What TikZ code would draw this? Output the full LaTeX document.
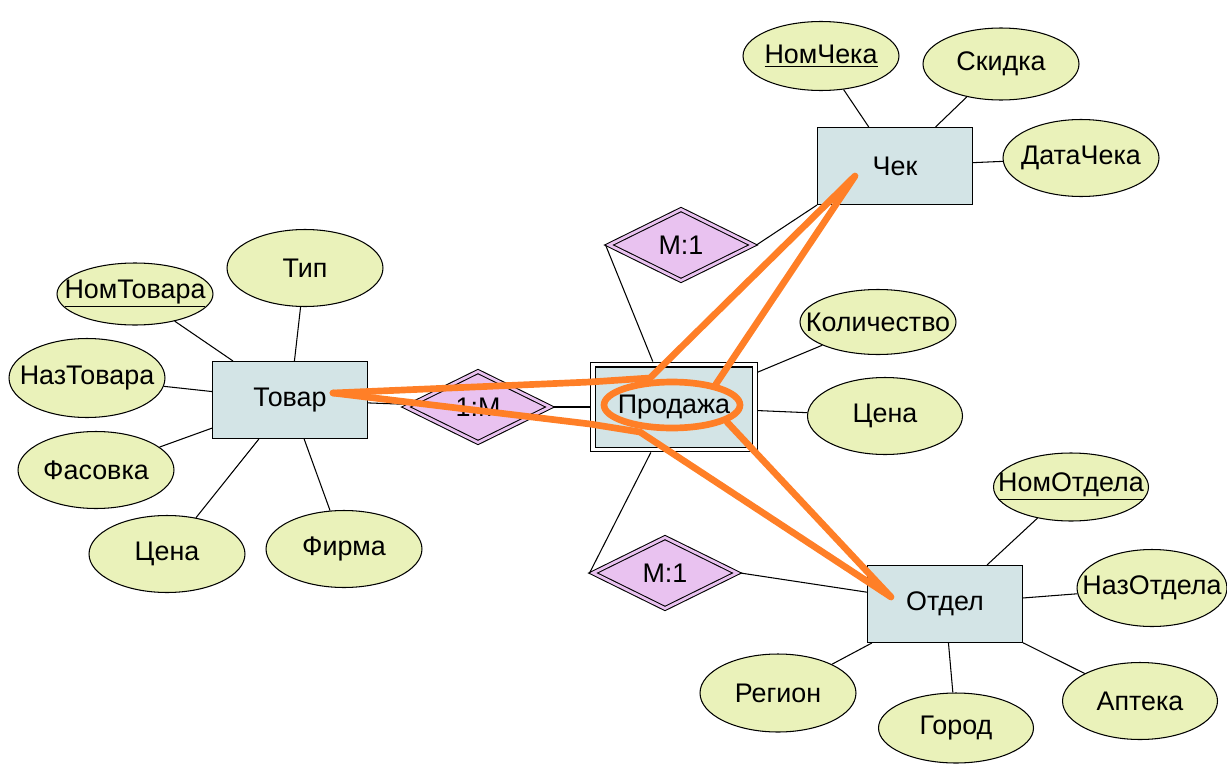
\documentclass[tikz,border=0pt]{standalone}
\usepackage{fontspec}
\setmainfont{Liberation Sans}
\usetikzlibrary{shapes.geometric, positioning}
\definecolor{entityfill}{RGB}{211,228,230}
\definecolor{attrfill}{RGB}{234,242,186}
\definecolor{relfill}{RGB}{233,194,240}
\definecolor{markorange}{RGB}{255,127,39}

\begin{document}
\begin{tikzpicture}
    [
        x=0.02cm, y=-0.02cm,
        font=\fontsize{15.3}{18}\selectfont,
        entity/.style={draw, line width=0.6pt, fill=entityfill, minimum width=3.1cm, minimum height=1.54cm, inner sep=0pt},
        wentity/.style={entity, double=white, double distance=2.2pt, minimum width=3.24cm, minimum height=1.7cm, outer sep=1.7pt},
        attr/.style={draw, ellipse, line width=0.6pt, fill=attrfill, minimum width=3.12cm, minimum height=1.54cm, inner xsep=-0.4cm, inner ysep=0pt},
        rel/.style={draw, diamond, line width=0.6pt, fill=relfill, double=relfill, double distance=1.6pt, minimum width=2.92cm, minimum height=1.46cm, inner sep=0pt, outer sep=1.4pt}
    ]
    \tikzstyle{line} = [draw, line width=0.6pt]
    \tikzstyle{scribble} = [draw=markorange, line width=3.8pt, line cap=round, line join=round]

    \useasboundingbox (0,0) rectangle (1227,764);

    % Entities
    \node[entity] (tovar) at (290,400) {Товар};
    \node[entity] (chek) at (895,166) {Чек};
    \node[wentity] (prodazha) at (674,407) {Продажа};
    \node[entity] (otdel) at (945,604) {Отдел};

    % Relationships
    \node[rel] (rel_tovar) at (478,407) {1:M};
    \node[rel] (rel_chek) at (681,245) {M:1};
    \node[rel] (rel_otdel) at (665,573) {M:1};

    % Attributes of Товар
    \node[attr, minimum height=1.24cm] (tovar_nom) at (135,294) {\underline{НомТовара}};
    \node[attr] (tovar_tip) at (305,268) {Тип};
    \node[attr, minimum height=1.58cm] (tovar_naz) at (87,378) {НазТовара};
    \node[attr] (tovar_fas) at (96,470) {Фасовка};
    \node[attr] (tovar_cena) at (167,554) {Цена};
    \node[attr] (tovar_firma) at (344,549) {Фирма};
    \path[line] (tovar) edge (tovar_nom);
    \path[line] (tovar) edge (tovar_tip);
    \path[line] (tovar) edge (tovar_naz);
    \path[line] (tovar) edge (tovar_fas);
    \path[line] (tovar) edge (tovar_cena);
    \path[line] (tovar) edge (tovar_firma);

    % Attributes of Чек
    \node[attr, minimum height=1.38cm] (chek_nom) at (821,56) {\underline{НомЧека}};
    \node[attr, minimum height=1.44cm] (chek_skidka) at (1001,64) {Скидка};
    \node[attr] (chek_data) at (1081,158) {ДатаЧека};
    \path[line] (chek) edge (chek_nom);
    \path[line] (chek) edge (chek_skidka);
    \path[line] (chek) edge (chek_data);

    % Attributes of Продажа
    \node[attr, minimum height=1.3cm] (prod_kol) at (878,322) {Количество};
    \node[attr, minimum width=3.1cm] (prod_cena) at (885,416) {Цена};
    \path[line] (prodazha) edge (prod_kol);
    \path[line] (prodazha) edge (prod_cena);

    % Attributes of Отдел
    \node[attr, minimum width=3.1cm, minimum height=1.36cm] (otdel_nom) at (1071,487) {\underline{НомОтдела}};
    \node[attr, minimum width=3.0cm] (otdel_naz) at (1152,588) {НазОтдела};
    \node[attr, minimum width=3.1cm] (otdel_apt) at (1140,701) {Аптека};
    \node[attr, minimum width=3.1cm, minimum height=1.4cm] (otdel_gorod) at (956,728) {Город};
    \node[attr, minimum height=1.56cm] (otdel_region) at (778,693) {Регион};
    \path[line] (otdel) edge (otdel_nom);
    \path[line] (otdel) edge (otdel_naz);
    \path[line] (otdel) edge (otdel_apt);
    \path[line] (otdel) edge (otdel_gorod);
    \path[line] (otdel) edge (otdel_region);

    % Relationship links
    \path[line] (tovar) edge (rel_tovar);
    \path[line] (rel_tovar) edge (prodazha);
    \path[line] (rel_chek.west) edge (prodazha.115);
    \path[line] (rel_chek.east) edge (chek.south west);
    \path[line] (rel_otdel.west) edge (prodazha.243);
    \path[line] (rel_otdel.east) edge (otdel);

    % Hand-drawn marks
    \coordinate (mk_tovar) at (333,393);
    \coordinate (mk_chek) at (855,176);
    \coordinate (mk_otdel) at (891,597);
    \draw[scribble] (mk_tovar) -- (590,382) -- (650,378) -- (mk_chek) -- (716,384);
    \draw[scribble] (mk_tovar) -- (590,424) -- (640,432) -- (mk_otdel) -- (727,422);
    \draw[scribble] (672,405) ellipse [x radius=1.36cm, y radius=0.46cm];
\end{tikzpicture}
\end{document}
